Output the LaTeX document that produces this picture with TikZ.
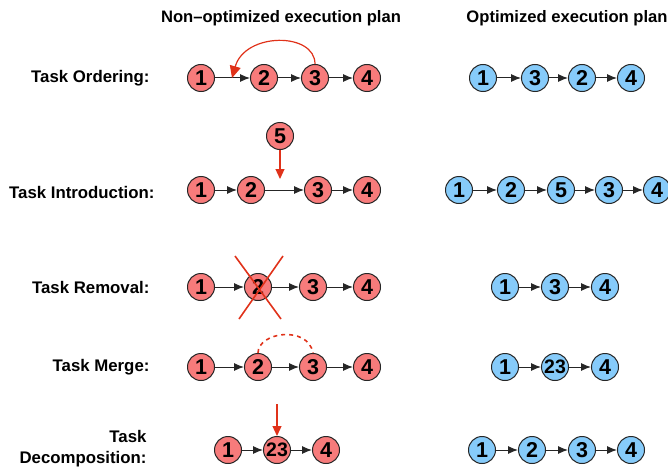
\documentclass[tikz,border=0pt]{standalone}
\usepackage{fontspec}
\setmainfont{Liberation Sans}
\usetikzlibrary{arrows.meta}
\definecolor{redfill}{HTML}{F77B7B}
\definecolor{bluefill}{HTML}{86CBFA}
\definecolor{accent}{HTML}{E0321A}
\begin{document}
\begin{tikzpicture}[x=1pt,y=-1pt,
  task/.style={circle,draw=black!85,line width=1pt,minimum size=27pt,inner sep=0pt,font=\fontsize{21.5}{21.5}\selectfont\bfseries},
  rtask/.style={task,fill=redfill},
  btask/.style={task,fill=bluefill},
  merged/.style={font=\fontsize{19.5}{19.5}\selectfont\bfseries},
  flow/.style={-{Latex[length=10pt,width=8pt]},line width=1pt,black!85},
  change/.style={line width=1.2pt,accent},
  rowlabel/.style={anchor=east,font=\fontsize{16.8}{21}\selectfont\bfseries,align=right},
  title/.style={font=\fontsize{16.6}{18}\selectfont\bfseries}]
\useasboundingbox (0,0) rectangle (668,468);
% titles
\node[title] (t1) at (281,18) {Non–optimized execution plan};
\node[title] (t2) at (567,18) {Optimized execution plan};
% row labels
\node[rowlabel] (l1) at (153,78) {Task Ordering:};
\node[rowlabel] (l2) at (158,192) {Task Introduction:};
\node[rowlabel] (l3) at (153,287) {Task Removal:};
\node[rowlabel] (l4) at (153,367) {Task Merge:};
\node[rowlabel] (l5) at (150,449) {Task\\Decomposition:};
% row 1 ordering
\node[rtask] (a1) at (201,78) {1};
\node[rtask] (a2) at (264,78) {2};
\node[rtask] (a3) at (315,78) {3};
\node[rtask] (a4) at (367,78) {4};
\draw[flow] (a1) -- (a2);
\draw[flow] (a2) -- (a3);
\draw[flow] (a3) -- (a4);
\coordinate (ao) at (232,78);
\draw[change,-{Triangle[length=12pt,width=11pt]}] (a3.north) .. controls (315,32) and (245,32) .. (ao);
\node[btask] (b1) at (483,78) {1};
\node[btask] (b3) at (535,78) {3};
\node[btask] (b2) at (582,78) {2};
\node[btask] (b4) at (631,78) {4};
\draw[flow] (b1) -- (b3);
\draw[flow] (b3) -- (b2);
\draw[flow] (b2) -- (b4);
% row 2 introduction
\node[rtask] (c5) at (280,136) {5};
\node[rtask] (c1) at (201,190) {1};
\node[rtask] (c2) at (251,190) {2};
\node[rtask] (c3) at (318,190) {3};
\node[rtask] (c4) at (367,190) {4};
\draw[flow] (c1) -- (c2);
\draw[flow] (c2) -- (c3);
\draw[flow] (c3) -- (c4);
\coordinate (co) at (280,179);
\draw[change,-{Triangle[length=10pt,width=9pt]}] (c5) -- (co);
\node[btask] (d1) at (459,190) {1};
\node[btask] (d2) at (511,190) {2};
\node[btask] (d5) at (561,190) {5};
\node[btask] (d3) at (609,190) {3};
\node[btask] (d4) at (657,190) {4};
\draw[flow] (d1) -- (d2);
\draw[flow] (d2) -- (d5);
\draw[flow] (d5) -- (d3);
\draw[flow] (d3) -- (d4);
% row 3 removal
\node[rtask] (e1) at (201,287) {1};
\node[rtask] (e2) at (258,287) {2};
\node[rtask] (e3) at (313,287) {3};
\node[rtask] (e4) at (367,287) {4};
\draw[flow] (e1) -- (e2);
\draw[flow] (e2) -- (e3);
\draw[flow] (e3) -- (e4);
\draw[change,line width=1.6pt] (e2) ++(-23,-31) coordinate (x1) -- ++(46,63);
\draw[change,line width=1.6pt] (e2) ++(25,-31) coordinate (x2) -- ++(-44,63);
\node[btask] (f1) at (505,287) {1};
\node[btask] (f3) at (555,287) {3};
\node[btask] (f4) at (605,287) {4};
\draw[flow] (f1) -- (f3);
\draw[flow] (f3) -- (f4);
% row 4 merge
\node[rtask] (g1) at (201,367) {1};
\node[rtask] (g2) at (258,367) {2};
\node[rtask] (g3) at (313,367) {3};
\node[rtask] (g4) at (367,367) {4};
\draw[flow] (g1) -- (g2);
\draw[flow] (g2) -- (g3);
\draw[flow] (g3) -- (g4);
\draw[change,line width=1.6pt,dash pattern=on 4pt off 4pt] (g2.north) .. controls (258,332) and (308,325) .. (g3.north);
\node[btask] (h1) at (505,367) {1};
\node[btask,merged] (h23) at (555,367) {23};
\node[btask] (h4) at (605,367) {4};
\draw[flow] (h1) -- (h23);
\draw[flow] (h23) -- (h4);
% row 5 decomposition
\node[rtask] (i1) at (228,450) {1};
\node[rtask,merged] (i23) at (277,450) {23};
\node[rtask] (i4) at (326,450) {4};
\draw[flow] (i1) -- (i23);
\draw[flow] (i23) -- (i4);
\coordinate (it) at (277,404);
\draw[change,-{Triangle[length=10pt,width=9pt]}] (it) -- (i23);
\node[btask] (j1) at (482,450) {1};
\node[btask] (j2) at (532,450) {2};
\node[btask] (j3) at (582,450) {3};
\node[btask] (j4) at (631,450) {4};
\draw[flow] (j1) -- (j2);
\draw[flow] (j2) -- (j3);
\draw[flow] (j3) -- (j4);
\end{tikzpicture}
\end{document}
